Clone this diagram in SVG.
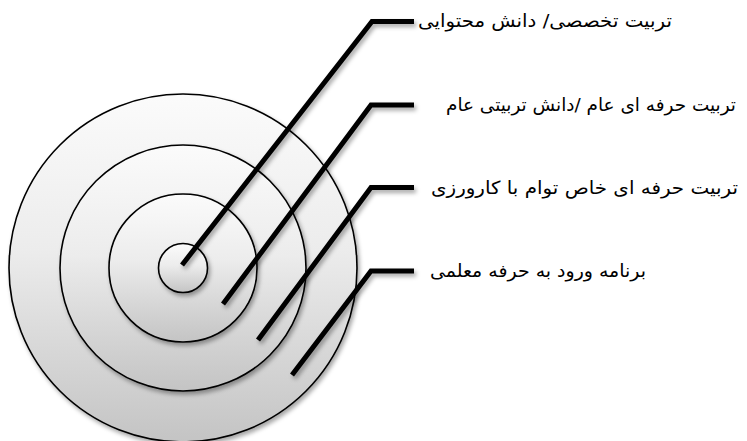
<svg xmlns="http://www.w3.org/2000/svg" width="747" height="441" viewBox="0 0 747 441">
<defs>
<linearGradient id="g" x1="0" y1="0" x2="0" y2="1">
<stop offset="0" stop-color="#fbfbfb"/>
<stop offset="0.45" stop-color="#ececec"/>
<stop offset="1" stop-color="#c4c4c4"/>
</linearGradient>
<filter id="sh" x="-20%" y="-20%" width="150%" height="150%">
<feDropShadow dx="2" dy="3" stdDeviation="2" flood-color="#000" flood-opacity="0.35"/>
</filter>
</defs>
<style>
.ring{fill:url(#g);stroke:#000;stroke-width:1.6;filter:url(#sh)}
.ld{fill:none;stroke:#000;stroke-width:5;stroke-linejoin:miter;filter:url(#sh)}
.lbl{font-family:"DejaVu Sans",sans-serif;font-size:18px;fill:#000}
</style>
<rect width="747" height="441" fill="#fff"/>
<g id="ring4"><circle class="ring" cx="183" cy="268" r="174"/></g>
<g id="ring3"><circle class="ring" cx="183" cy="268" r="123"/></g>
<g id="ring2"><circle class="ring" cx="183" cy="268" r="74"/></g>
<g id="ring1"><circle class="ring" cx="183" cy="268" r="24.5"/></g>
<g id="connectors">
<polyline class="ld" points="182,265 372,21.5 414,21.5"/>
<polyline class="ld" points="223,304 371,105 414,105"/>
<polyline class="ld" points="258,340 371,187.5 414,187.5"/>
<polyline class="ld" points="292,375 371,271 414,271"/>
</g>
<g id="label1"><text class="lbl" x="672" y="27" direction="rtl" text-anchor="start" textLength="254" lengthAdjust="spacingAndGlyphs">تربیت تخصصی/ دانش محتوایی</text></g>
<g id="label2"><text class="lbl" x="736" y="111" direction="rtl" text-anchor="start" textLength="290" lengthAdjust="spacingAndGlyphs">تربیت حرفه ای عام /دانش تربیتی عام</text></g>
<g id="label3"><text class="lbl" x="738" y="194" direction="rtl" text-anchor="start" textLength="307" lengthAdjust="spacingAndGlyphs">تربیت حرفه ای خاص توام با کارورزی</text></g>
<g id="label4"><text class="lbl" x="646" y="277" direction="rtl" text-anchor="start" textLength="216" lengthAdjust="spacingAndGlyphs">برنامه ورود به حرفه معلمی</text></g>
</svg>
